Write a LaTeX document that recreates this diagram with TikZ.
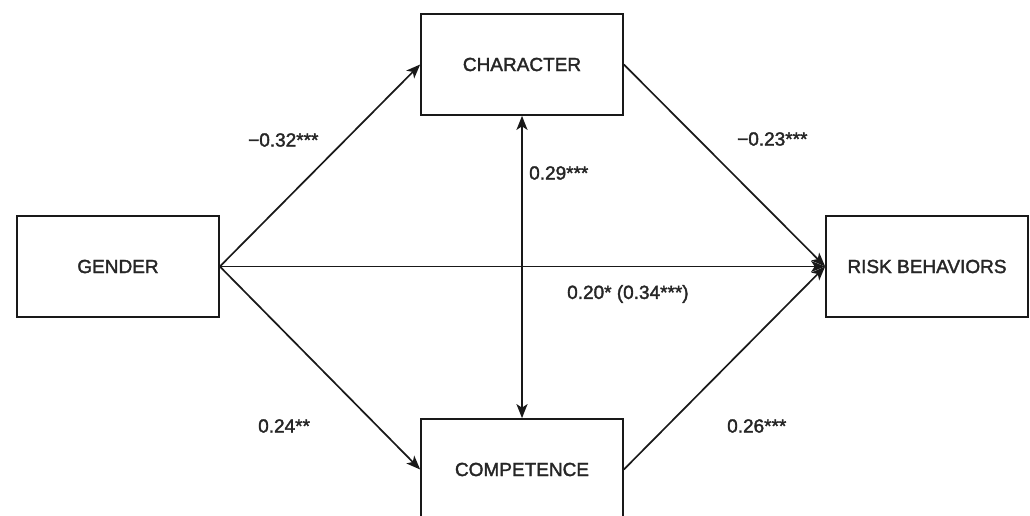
\documentclass[tikz,border=0pt]{standalone}
\usepackage{fontspec}
\setmainfont{Liberation Sans}
\newfontfamily\labelfont{Liberation Sans}[FakeBold=1.8]
\usetikzlibrary{arrows.meta}
\begin{document}
\begin{tikzpicture}[x=1pt,y=-1pt,
  tip/.tip={Stealth[length=14pt,width=11pt,inset=3.5pt]},
  varbox/.style={draw=black!90, line width=1.7pt, minimum width=202pt, minimum height=101pt,
    inner sep=0pt, font=\labelfont\fontsize{19}{22}\selectfont, text=black!85},
  coef/.style={font=\labelfont\fontsize{19}{22}\selectfont, text=black!85, inner sep=0pt, anchor=west},
  path/.style={draw=black!90, line width=1.7pt, -tip},
  corr/.style={draw=black!90, line width=1.7pt, tip-tip}]
  \useasboundingbox[fill=white] (0,0) rectangle (1030,516);

  % variables
  \node[varbox] (gender) at (118,266.5) {GENDER};
  \node[varbox] (char)   at (522,64.5)  {CHARACTER};
  \node[varbox] (comp)   at (522,469.5) {COMPETENCE};
  \node[varbox] (risk)   at (927,266.5) {RISK BEHAVIORS};

  % structural paths
  \draw[path] (gender.east) -- (char.west);
  \draw[path] (gender.east) -- (comp.west);
  \draw[path] (gender.east) -- (risk.west);
  \draw[path] (char.east) -- (risk.west);
  \draw[path] (comp.east) -- (risk.west);
  \draw[corr] (char.south) -- (comp.north);

  % coefficients
  \node[coef] (c1) at (248,140) {−0.32***};
  \node[coef] (c2) at (737,139) {−0.23***};
  \node[coef] (c3) at (258,426) {0.24**};
  \node[coef] (c4) at (727,426) {0.26***};
  \node[coef] (c5) at (529,173) {0.29***};
  \node[coef] (c6) at (567,294) {0.20* (0.34***)};
\end{tikzpicture}
\end{document}
